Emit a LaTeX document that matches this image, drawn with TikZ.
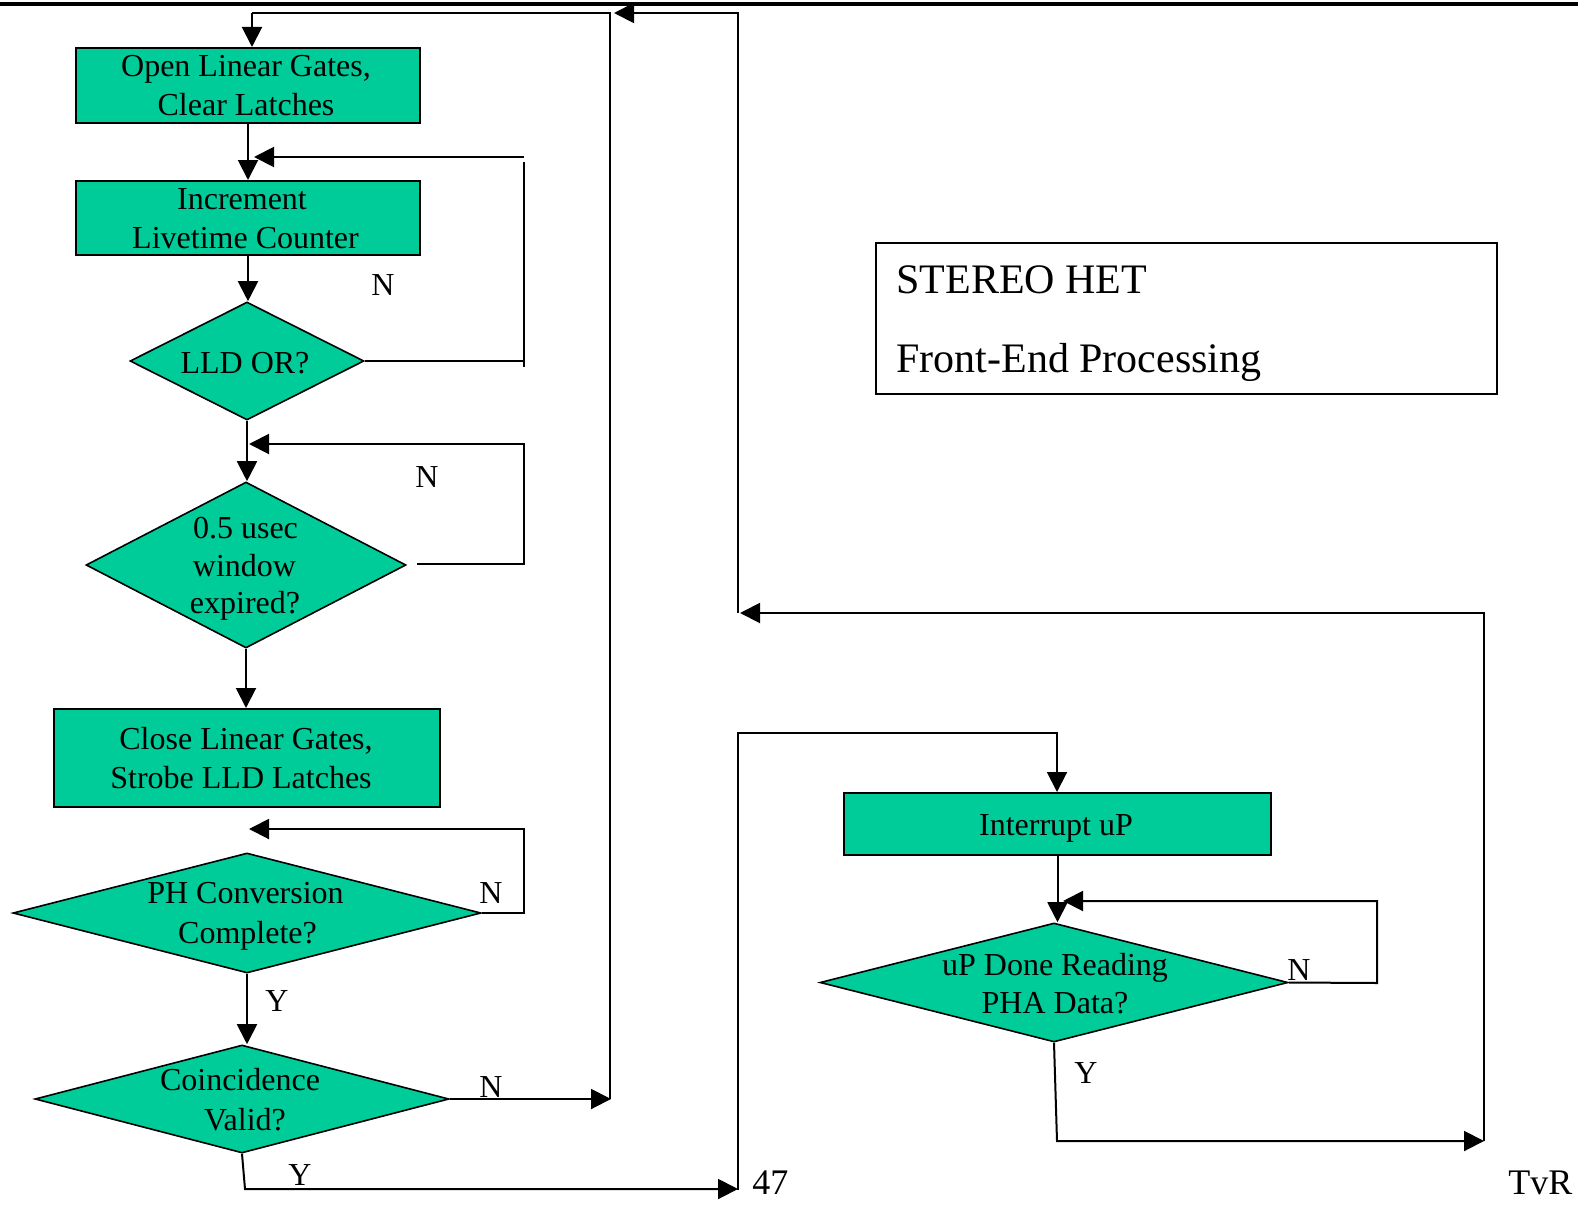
\documentclass[tikz,border=0pt]{standalone}
\usepackage{fontspec}
\setmainfont{Liberation Serif}
\usetikzlibrary{arrows.meta,shapes.geometric}
\definecolor{flowgreen}{RGB}{0,204,153}
\begin{document}
\begin{tikzpicture}[x=0.5pt,y=-0.5pt,
  proc/.style={draw=black,line width=1pt,fill=flowgreen,rectangle,inner sep=0pt},
  dec/.style={draw=black,line width=0.8pt,fill=flowgreen,diamond,aspect=1,inner sep=0pt},
  hdrbox/.style={draw=black,line width=0.8pt,rectangle,inner sep=0pt},
  txt/.style={anchor=base,inner sep=0pt,font=\fontsize{16}{19}\selectfont},
  big/.style={anchor=base west,inner sep=0pt,font=\fontsize{21}{25}\selectfont},
  pg/.style={anchor=base west,inner sep=0pt,font=\fontsize{18}{22}\selectfont},
  conn/.style={line width=1pt},
  arr/.style={conn,-{Triangle[length=10pt,width=10pt]}}
]
\useasboundingbox (0,0) rectangle (1578,1204);
\draw[line width=1.6pt] (0,4) -- (1578,4);

% shapes
\node[proc,minimum width=172pt,minimum height=37.5pt] (b1) at (248,85.5) {};
\node[proc,minimum width=172pt,minimum height=37pt] (b2) at (248,218) {};
\node[dec,minimum width=117pt,minimum height=59pt] (d1) at (247,361) {};
\node[dec,minimum width=160pt,minimum height=83pt] (d2) at (246,565) {};
\node[proc,minimum width=193pt,minimum height=49pt] (b3) at (247,758) {};
\node[dec,minimum width=234pt,minimum height=60pt] (d3) at (247,913) {};
\node[dec,minimum width=207pt,minimum height=54pt] (d4) at (242,1099) {};
\node[proc,minimum width=213.5pt,minimum height=31pt] (ib) at (1057.5,824) {};
\node[dec,minimum width=234pt,minimum height=59.5pt] (d5) at (1054,982.5) {};
\node[hdrbox,minimum width=310.5pt,minimum height=75.5pt] (hdr) at (1186.5,318.5) {};

% texts
\node[txt] (t1a) at (246,76) {Open Linear Gates,};
\node[txt] (t1b) at (246,116) {Clear Latches};
\node[txt] (t2a) at (242,209) {Increment};
\node[txt] (t2b) at (245.5,248) {Livetime Counter};
\node[txt] (t3) at (245,373) {LLD OR?};
\node[txt] (n1) at (383,295) {N};
\node[txt] (t4a) at (245.5,538) {0.5 usec};
\node[txt] (t4b) at (244.5,576) {window};
\node[txt] (t4c) at (245,613) {expired?};
\node[txt] (n2) at (427,487) {N};
\node[txt] (t5a) at (246,749) {Close Linear Gates,};
\node[txt] (t5b) at (241,788) {Strobe LLD Latches};
\node[txt] (t6a) at (245.5,903) {PH Conversion};
\node[txt] (t6b) at (247.5,943) {Complete?};
\node[txt] (n3) at (491,903) {N};
\node[txt] (y3) at (277,1011) {Y};
\node[txt] (t7a) at (240,1090) {Coincidence};
\node[txt] (t7b) at (245,1130) {Valid?};
\node[txt] (n4) at (491,1097) {N};
\node[txt] (y4) at (300,1185) {Y};
\node[txt] (t8) at (1056,835) {Interrupt uP};
\node[txt] (t9a) at (1055,975) {uP Done Reading};
\node[txt] (t9b) at (1055,1013) {PHA Data?};
\node[txt] (n5) at (1299,980) {N};
\node[txt] (y5) at (1086,1083) {Y};
\node[big] (h1) at (896,293) {STEREO HET};
\node[big] (h2) at (896,372) {Front-End Processing};
\node[pg] (p47) at (752,1194) {47};
\node[pg] (tvr) at (1508,1194) {TvR};

% coordinates
\coordinate (tl) at (252,13);
\coordinate (tm) at (610,13);
\coordinate (tmb) at (610,1099);
\coordinate (tmtip) at (611,1099);
\coordinate (tr) at (738,13);
\coordinate (trtip) at (614,13);
\coordinate (rmid) at (738,613);
\coordinate (rmidtip) at (740,613);
\coordinate (rr) at (1484,613);
\coordinate (rrb) at (1484,1141);
\coordinate (lowl) at (738,1190);
\coordinate (lowtl) at (738,733);
\coordinate (lowtr) at (1057,733);
\coordinate (d5b) at (1057,1141);
\coordinate (l5a) at (1377,983);
\coordinate (l5b) at (1377,901);
\coordinate (l5tip) at (1063,901);
\coordinate (l1a) at (524,361);
\coordinate (l1b) at (524,367);
\coordinate (l1c) at (524,162);
\coordinate (l1d) at (524,157);
\coordinate (l1tip) at (254,157);
\coordinate (l2a) at (417,564);
\coordinate (l2b) at (524,564);
\coordinate (l2c) at (524,444);
\coordinate (l2tip) at (249,444);
\coordinate (l3a) at (524,913);
\coordinate (l3b) at (524,829);
\coordinate (l3tip) at (249,829);
\coordinate (y4a) at (245,1189);
\coordinate (y4tip) at (738,1189);

% connectors
\draw[arr] (tl) -- (tl |- b1.north);
\draw[conn] (tmb) -- (tm) -- (tl);
\draw[arr] (b1.south) -- (b2.north);
\draw[arr] (b2.south) -- (b2.south |- d1.north);
\draw[conn] (d1.east) -- (l1a);
\draw[conn] (l1b) -- (l1c);
\draw[arr] (l1d) -- (l1tip);
\draw[arr] (d1.south) -- (d1.south |- d2.north);
\draw[arr] (l2a) -- (l2b) -- (l2c) -- (l2tip);
\draw[arr] (d2.south) -- (d2.south |- b3.north);
\draw[arr] (d3.east) -- (l3a) -- (l3b) -- (l3tip);
\draw[arr] (d3.south) -- (d3.south |- d4.north);
\draw[arr] (d4.east) -- (tmtip);
\draw[arr] (d4.south) -- (y4a) -- (y4tip);
\draw[arr] (lowl) -- (lowtl) -- (lowtr) -- (lowtr |- ib.north);
\draw[arr] (ib.south) -- (ib.south |- d5.north);
\draw[arr] (d5.east) -- (l5a) -- (l5b) -- (l5tip);
\draw[arr] (d5.south) -- (d5b) -- (rrb);
\draw[arr] (rrb) -- (rr) -- (rmidtip);
\draw[arr] (rmid) -- (tr) -- (trtip);
\end{tikzpicture}
\end{document}
